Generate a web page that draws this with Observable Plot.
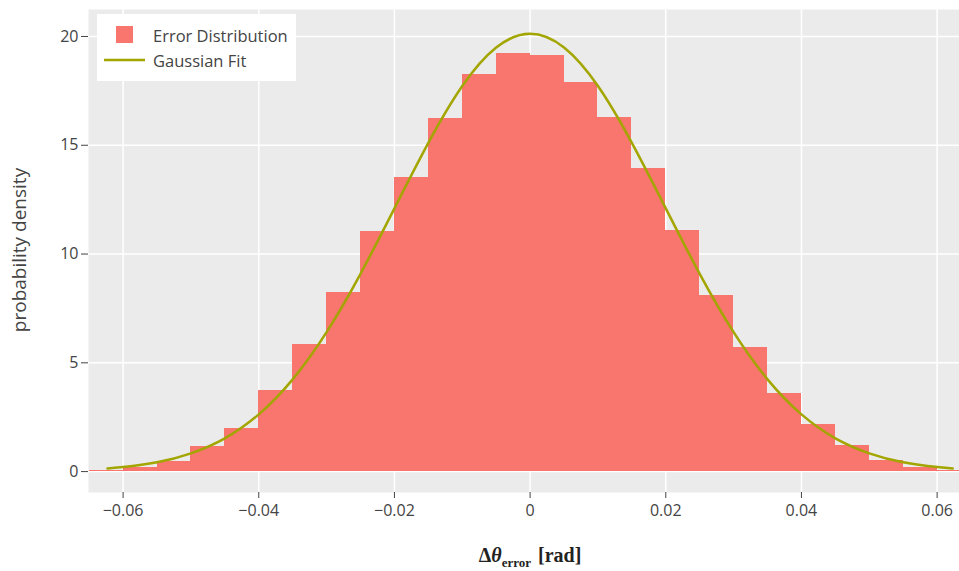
<!DOCTYPE html>
<html>
<head>
<meta charset="utf-8">
<script src="https://cdn.jsdelivr.net/npm/d3@7"></script>
<script src="https://cdn.jsdelivr.net/npm/@observablehq/plot@0.6"></script>
<style>
  html, body { margin: 0; padding: 0; background: #fff; }
  #chart { width: 959px; height: 571px; }
</style>
</head>
<body>
<div id="chart"></div>
<script>
// ---- data ----
const binWidth = 0.005;
const binLeft = [-0.065, -0.06, -0.055, -0.05, -0.045, -0.04, -0.035, -0.03, -0.025, -0.02, -0.015, -0.01, -0.005,
                 0, 0.005, 0.01, 0.015, 0.02, 0.025, 0.03, 0.035, 0.04, 0.045, 0.05, 0.055, 0.06];
const density = [0.06, 0.18, 0.48, 1.17, 2.0, 3.75, 5.82, 8.24, 11.04, 13.53, 16.24, 18.27, 19.23,
                 19.14, 17.9, 16.29, 13.94, 11.08, 8.09, 5.69, 3.6, 2.17, 1.19, 0.49, 0.17, 0.06];

const fitX = [-0.0623, -0.06, -0.055, -0.05, -0.045, -0.04, -0.035, -0.03, -0.025, -0.02, -0.015, -0.01, -0.005,
              0, 0.005, 0.01, 0.015, 0.02, 0.025, 0.03, 0.035, 0.04, 0.045, 0.05, 0.055, 0.06, 0.0623];
const fitY = [0.145, 0.21, 0.43, 0.84, 1.53, 2.63, 4.24, 6.41, 9.09, 12.10, 15.11, 17.72, 19.49,
              20.12, 19.49, 17.72, 15.11, 12.10, 9.09, 6.41, 4.24, 2.63, 1.53, 0.84, 0.43, 0.21, 0.145];

const xTicks = [-0.06, -0.04, -0.02, 0, 0.02, 0.04, 0.06];
const xTickLabels = ["\u22120.06", "\u22120.04", "\u22120.02", "0", "0.02", "0.04", "0.06"];
const yTicks = [0, 5, 10, 15, 20];
const yTickLabels = ["0", "5", "10", "15", "20"];

const seriesNames = ["Error Distribution", "Gaussian Fit"];
const barColor = "#F8766D";
const lineColor = "#A3A500";

// ---- build tables ----
const bars = binLeft.map((x, i) => ({x1: x, x2: x + binWidth, y: density[i]}));
const fit = fitX.map((x, i) => ({x, y: fitY[i]}));

const W = 959, H = 571;
const chart = Plot.plot({
  width: W,
  height: H,
  marginLeft: 88,
  marginRight: 0,
  marginTop: 9,
  marginBottom: 79,
  style: {fontFamily: "'Open Sans', sans-serif", fontSize: "16px", color: "#444", background: "white"},
  x: {domain: [-0.0651, 0.0633]},
  y: {domain: [-0.961, 21.24]},
  marks: [
    Plot.frame({fill: "#ebebeb", stroke: null}),
    Plot.gridX(xTicks, {stroke: "white", strokeOpacity: 1, strokeWidth: 1.5}),
    Plot.gridY(yTicks, {stroke: "white", strokeOpacity: 1, strokeWidth: 1.5}),
    Plot.rectY(bars, {x1: "x1", x2: "x2", y: "y", fill: barColor, shapeRendering: "crispEdges", clip: true}),
    Plot.line(fit, {x: "x", y: "y", stroke: lineColor, strokeWidth: 2.5, curve: "natural", clip: true}),
    Plot.axisX(xTicks, {tickSize: 6, tickPadding: 6, tickFormat: (d, i) => xTickLabels[i], label: null, stroke: "#444"}),
    Plot.axisY(yTicks, {tickSize: 7, tickPadding: 3, tickFormat: (d, i) => yTickLabels[i], label: null, stroke: "#444"})
  ]
});
document.getElementById("chart").appendChild(chart);

// ---- axis titles and legend ----
const svg = d3.select(chart);
svg.append("text")
  .attr("transform", "translate(19,250) rotate(-90)")
  .attr("text-anchor", "middle")
  .attr("dominant-baseline", "central")
  .attr("font-family", "'Open Sans', sans-serif")
  .attr("font-size", 19)
  .attr("fill", "#444")
  .text("probability density");

const xl = svg.append("text")
  .attr("x", 530).attr("y", 562)
  .attr("text-anchor", "middle")
  .attr("font-family", "'Liberation Serif', serif")
  .attr("font-size", 20)
  .attr("font-weight", "bold")
  .attr("fill", "#222");
xl.append("tspan").text("\u0394");
xl.append("tspan").attr("font-style", "italic").text("\u03B8");
xl.append("tspan").attr("font-size", 13).attr("dy", 5).text("error");
xl.append("tspan").attr("dy", -5).attr("dx", 7).text("[rad]");

const lg = svg.append("g").attr("text-anchor", "start");
lg.append("rect").attr("x", 97).attr("y", 14).attr("width", 199).attr("height", 67).attr("fill", "white");
lg.append("rect").attr("x", 116).attr("y", 26).attr("width", 17).attr("height", 17).attr("fill", barColor);
lg.append("line").attr("x1", 104).attr("x2", 145).attr("y1", 60).attr("y2", 60)
  .attr("stroke", lineColor).attr("stroke-width", 2.5);
seriesNames.forEach((name, i) => {
  lg.append("text").attr("x", 153).attr("y", 35 + i * 25)
    .attr("text-anchor", "start")
    .attr("dominant-baseline", "central")
    .attr("font-family", "'Open Sans', sans-serif")
    .attr("font-size", 16.5)
    .attr("fill", "#444")
    .text(name);
});
</script>
</body>
</html>
